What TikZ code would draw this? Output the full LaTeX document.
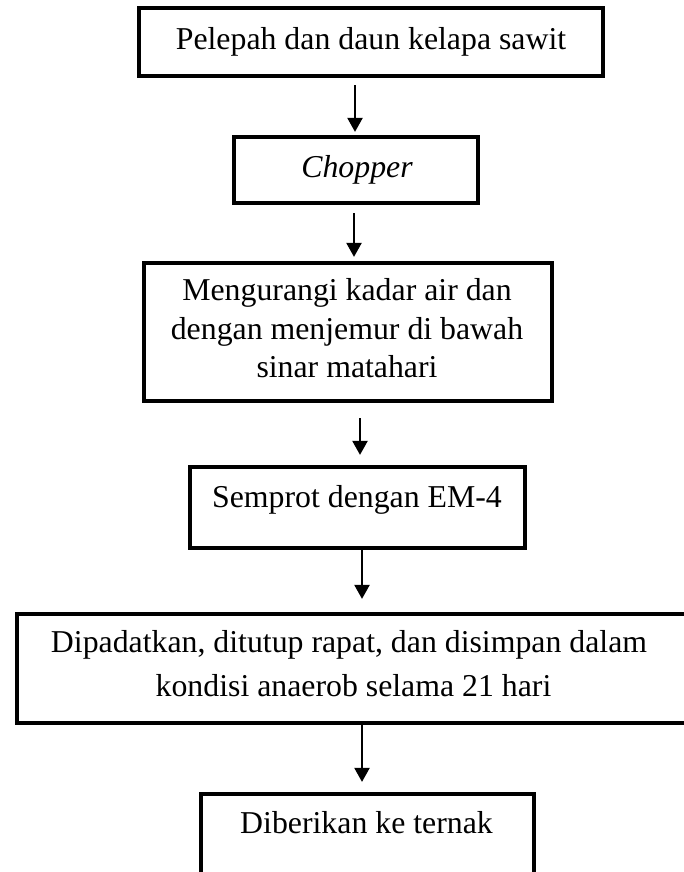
\documentclass[tikz,border=0pt]{standalone}
\usepackage{fontspec}
\setmainfont{Liberation Serif}
\usetikzlibrary{arrows.meta}
\begin{document}
\begin{tikzpicture}[x=1pt,y=-1pt,
  box/.style={draw,line width=4.2pt,rectangle,inner sep=0pt,outer sep=2.1pt},
  txt/.style={font=\fontsize{31.8}{38}\selectfont,inner sep=0pt,anchor=base},
  arr/.style={line width=2.2pt,-{Triangle[width=15pt,length=14pt]}}]
\fill[white] (0,0) rectangle (684,872);
\useasboundingbox (0,0) rectangle (684,872);
% boxes
\node[box,minimum width=464pt,minimum height=68pt] (b1) at (371,42) {};
\node[box,minimum width=244pt,minimum height=66pt] (b2) at (356,170) {};
\node[box,minimum width=408pt,minimum height=138pt] (b3) at (348,332) {};
\node[box,minimum width=335pt,minimum height=81pt] (b4) at (357.5,507.5) {};
\node[box,minimum width=687pt,minimum height=109pt] (b5) at (360.5,668.5) {};
\node[box,minimum width=333pt,minimum height=96pt] (b6) at (367.5,842) {};
% texts
\node[txt] (t1) at (371,50) {Pelepah dan daun kelapa sawit};
\node[txt] (t2) at (357,177) {\itshape Chopper};
\node[txt] (t3a) at (347,300.5) {Mengurangi kadar air dan};
\node[txt] (t3b) at (347,339) {dengan menjemur di bawah};
\node[txt] (t3c) at (347,377) {sinar matahari};
\node[txt] (t4) at (357,507) {Semprot dengan EM-4};
\node[txt] (t5a) at (349,652) {Dipadatkan, ditutup rapat, dan disimpan dalam};
\node[txt] (t5b) at (353.5,696.5) {kondisi anaerob selama 21 hari};
\node[txt] (t6) at (366.5,833) {Diberikan ke ternak};
% arrow columns
\coordinate (x1) at (355,0);
\coordinate (x2) at (354,0);
\coordinate (x3) at (360,0);
\coordinate (x4) at (362,0);
\coordinate (x5) at (362,0);
% arrows
\draw[arr,shorten <=7pt,shorten >=3pt] (b1.south -| x1) -- (b2.north -| x1);
\draw[arr,shorten <=8pt,shorten >=4pt] (b2.south -| x2) -- (b3.north -| x2);
\draw[arr,shorten <=15pt,shorten >=10pt] (b3.south -| x3) -- (b4.north -| x3);
\draw[arr,shorten <=0pt,shorten >=13pt] (b4.south -| x4) -- (b5.north -| x4);
\draw[arr,shorten <=0pt,shorten >=10pt] (b5.south -| x5) -- (b6.north -| x5);
\end{tikzpicture}
\end{document}
